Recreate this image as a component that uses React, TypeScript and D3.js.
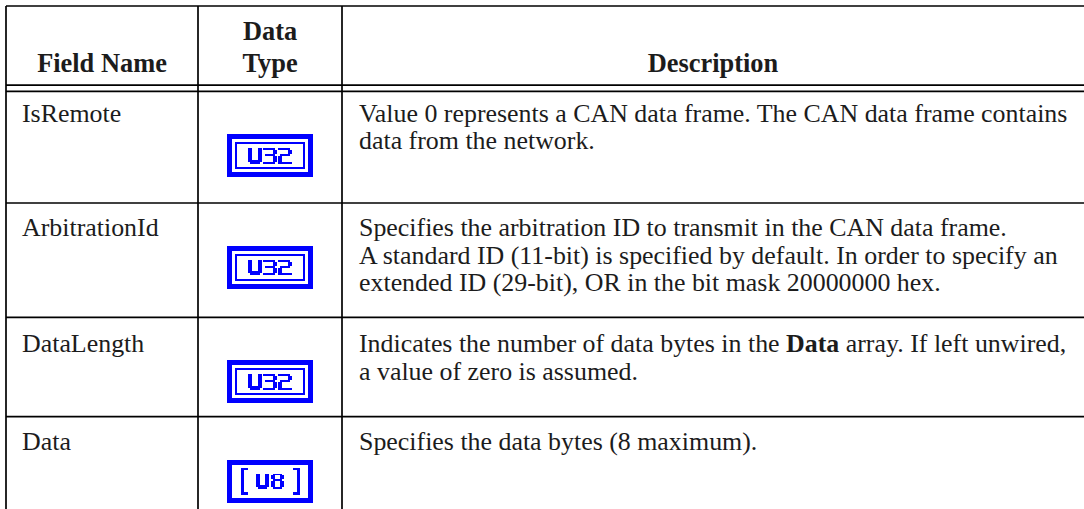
import React, { useRef, useEffect } from "react";
import * as d3 from "d3";

// table content
const headerLabels = [["Field Name"], ["Data", "Type"], ["Description"]];
const fieldNames = ["IsRemote", "ArbitrationId", "DataLength", "Data"];
const dataTypes = ["U32", "U32", "U32", "[U8]"];

// each description is a list of lines, each line a list of [text, bold] runs
type Run = [string, boolean];
const descIsRemote: Run[][] = [
	[["Value 0 represents a CAN data frame. The CAN data frame contains", false]],
	[["data from the network.", false]],
];
const descArbitrationId: Run[][] = [
	[["Specifies the arbitration ID to transmit in the CAN data frame.", false]],
	[["A standard ID (11-bit) is specified by default. In order to specify an", false]],
	[["extended ID (29-bit), OR in the bit mask 20000000 hex.", false]],
];
const descDataLength: Run[][] = [
	[
		["Indicates the number of data bytes in the ", false],
		["Data", true],
		[" array. If left unwired,", false],
	],
	[["a value of zero is assumed.", false]],
];
const descData: Run[][] = [[["Specifies the data bytes (8 maximum).", false]]];
const descriptions = [descIsRemote, descArbitrationId, descDataLength, descData];

// 7x8 pixel glyphs for the terminal icons
const glyphs: Record<string, string[]> = {
	U: ["11...11", "11...11", "11...11", "11...11", "11...11", "11...11", "1111111", ".11111."],
	"3": ["111111.", ".....11", ".....11", ".11111.", ".....11", ".....11", ".....11", "111111."],
	"2": ["111111.", ".....11", ".....11", ".11111.", "11.....", "11.....", "11.....", "1111111"],
	"8": [".11111.", "11...11", "11...11", ".11111.", "11...11", "11...11", "11...11", ".11111."],
};

// layout
const W = 1084;
const H = 509;
const colEdges = [6, 198, 342, 1084];
const tableTop = 6;
const headerRules = [85.2, 91.3];
const rowHeights = [111.7, 114.3, 99.4, 130];
const textPad = [30.6, 33.4, 34.9, 33.4];
const headSize = 26.4;
const fontSize = 25.9;
const lineHeight = 27.3;
const serif = "'Liberation Serif', 'Times New Roman', serif";
const ink = "#1c1c1c";
const blue = "#0000ff";
const iconW = 86;
const iconH = 43;
const iconTop = 43;

const App = () => {
	const svgRef = useRef<SVGSVGElement>(null);

	useEffect(() => {
		document.body.style.margin = "0";
		const svg = d3.select(svgRef.current);
		svg.selectAll("*").remove();

		const rowTops: number[] = [];
		let acc = headerRules[1];
		rowHeights.forEach((h) => {
			rowTops.push(acc);
			acc += h;
		});

		const x = d3.scaleOrdinal<number, number>().domain([0, 1, 2]).range(colEdges.slice(0, 3));
		const colMid = (i: number) => (colEdges[i] + colEdges[i + 1]) / 2;

		svg.append("rect").attr("width", W).attr("height", H).attr("fill", "#fff");

		// headers
		const gHead = svg
			.append("g")
			.attr("font-family", serif)
			.attr("font-weight", "bold")
			.attr("font-size", headSize)
			.attr("fill", ink)
			.attr("text-anchor", "middle");
		headerLabels.forEach((lines, i) => {
			lines.forEach((l, j) => {
				gHead
					.append("text")
					.attr("x", colMid(i))
					.attr("y", 71.7 - (lines.length - 1 - j) * 31.7)
					.text(l);
			});
		});

		// body text
		const gBody = svg.append("g").attr("font-family", serif).attr("font-size", fontSize).attr("fill", ink);
		fieldNames.forEach((name, i) => {
			const base = rowTops[i] + textPad[i];
			gBody.append("text").attr("x", x(0) + 16).attr("y", base).text(name);
			descriptions[i].forEach((line, j) => {
				const t = gBody.append("text").attr("x", x(2) + 17).attr("y", base + j * lineHeight);
				line.forEach(([txt, bold]) => {
					t.append("tspan").attr("font-weight", bold ? "bold" : "normal").text(txt);
				});
			});
		});

		// data type icons
		const drawGlyphs = (g: any, chars: string, cx: number, cy: number) => {
			const pw = 1.88;
			const ph = 1.92;
			const cols = chars.length * 7 + (chars.length - 1);
			const x0 = cx - (cols * pw) / 2;
			const y0 = cy - (8 * ph) / 2;
			chars.split("").forEach((c, k) => {
				glyphs[c].forEach((row, r) => {
					row.split("").forEach((b, col) => {
						if (b !== "1") return;
						g.append("rect")
							.attr("x", x0 + (k * 8 + col) * pw)
							.attr("y", y0 + r * ph)
							.attr("width", pw + 0.05)
							.attr("height", ph + 0.05)
							.attr("fill", blue);
					});
				});
			});
		};

		dataTypes.forEach((dt, i) => {
			const ix = colMid(1) - iconW / 2;
			const iy = rowTops[i] + iconTop;
			const g = svg.append("g").attr("transform", `translate(${ix},${iy})`).attr("shape-rendering", "crispEdges");
			g.append("rect").attr("width", iconW).attr("height", iconH).attr("fill", blue);
			g.append("rect").attr("x", 5).attr("y", 5).attr("width", iconW - 10).attr("height", iconH - 10).attr("fill", "#fff");
			const isArray = dt.startsWith("[");
			const label = dt.replace(/[\[\]]/g, "");
			if (!isArray) {
				// scalar: inner frame
				g.append("rect").attr("x", 8).attr("y", 8).attr("width", iconW - 16).attr("height", iconH - 16).attr("fill", blue);
				g.append("rect").attr("x", 10).attr("y", 10).attr("width", iconW - 20).attr("height", iconH - 20).attr("fill", "#fff");
			} else {
				// array: square brackets
				[13.5, iconW - 13.5].forEach((bx, side) => {
					const stemX = side === 0 ? bx : bx - 3;
					const tabX = side === 0 ? bx : bx - 7;
					g.append("rect").attr("x", stemX).attr("y", 8).attr("width", 3).attr("height", 27).attr("fill", blue);
					g.append("rect").attr("x", tabX).attr("y", 8).attr("width", 7).attr("height", 2.7).attr("fill", blue);
					g.append("rect").attr("x", tabX).attr("y", 35 - 2.7).attr("width", 7).attr("height", 2.7).attr("fill", blue);
				});
			}
			drawGlyphs(g, label, iconW / 2, iconH / 2);
		});

		// rules
		const gRules = svg.append("g").attr("stroke", "#000").attr("stroke-width", 1.7);
		[tableTop, ...headerRules, ...rowTops.slice(1)].forEach((y) => {
			gRules.append("line").attr("x1", colEdges[0]).attr("x2", W).attr("y1", y).attr("y2", y);
		});
		colEdges.slice(0, 3).forEach((cx) => {
			gRules.append("line").attr("x1", cx).attr("x2", cx).attr("y1", tableTop).attr("y2", H);
		});
	}, []);

	return (
		<svg
			ref={svgRef}
			width={W}
			height={H}
			style={{ display: "block", position: "absolute", top: 0, left: 0 }}
		/>
	);
};

export default App;
